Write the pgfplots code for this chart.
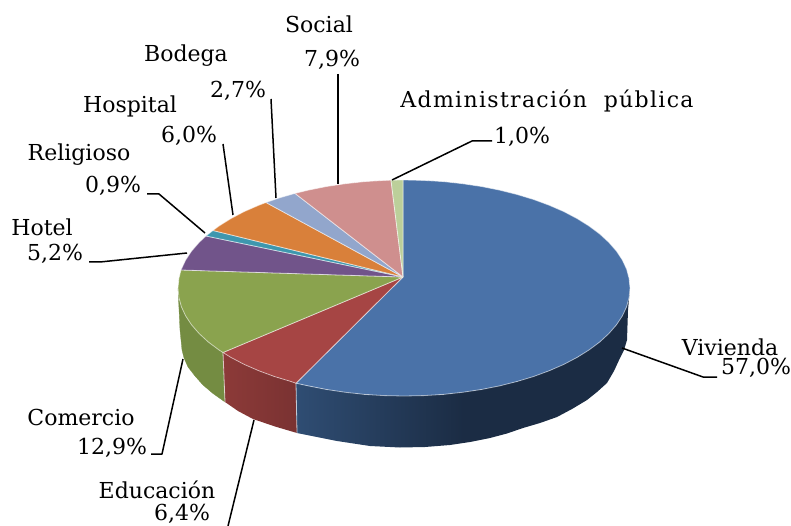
\documentclass[border=0pt]{standalone}
\usepackage{fontspec}
\setmainfont{DejaVu Serif}
\usepackage{pgfplots}
\pgfplotsset{compat=1.18}
\definecolor{viva}{HTML}{2F4D73}
\definecolor{vivb}{HTML}{1B2C44}
\definecolor{vivc}{HTML}{1B2C44}
\pgfdeclarehorizontalshading{vivside}{100bp}{color(0bp)=(viva); color(25bp)=(viva); color(50bp)=(vivb); color(75bp)=(vivc); color(100bp)=(vivc)}
\definecolor{cViv}{HTML}{4A72A8}
\definecolor{cEdu}{HTML}{A64544}
\definecolor{cCom}{HTML}{8AA34E}
\definecolor{cHot}{HTML}{71548A}
\definecolor{cRel}{HTML}{3E97AE}
\definecolor{cHos}{HTML}{D9803A}
\definecolor{cBod}{HTML}{92A6CC}
\definecolor{cSoc}{HTML}{CF8F8E}
\definecolor{cAdm}{HTML}{BCCF9A}
\definecolor{sCom}{HTML}{748C42}
\definecolor{sEduA}{HTML}{8C3A38}
\definecolor{sEduB}{HTML}{7A3232}
\tikzset{
  wedge/.style={draw=white,draw opacity=0.55,line width=0.8pt},
  leader/.style={black,line width=1.5pt,line join=round},
  lab/.style={font=\fontsize{22}{24}\selectfont,inner sep=0pt,anchor=center}}
\begin{document}
\begin{tikzpicture}
\path[use as bounding box] (0,0) rectangle (791pt,526pt);
\begin{axis}[at={(0,0)},anchor=south west,scale only axis,width=791pt,height=526pt,
  xmin=0,xmax=791,ymin=0,ymax=526,y dir=reverse,hide axis,clip=false,
  every axis plot/.append style={no markers}]
% side faces
\addplot[sCom,fill=sCom,line width=0.3pt] coordinates {(178,288)(178.9,297.4)(181.4,306.8)(185.7,316)(191.6,324.9)(199.2,333.6)(208.3,342)(218.9,349.9)(223,352.5)(225,402)(213,393.5)(203,385)(195,376)(188,367)(184,358)(182,350)(180,330)(178,288)};
\addplot[left color=sEduA,right color=sEduB,draw=none] coordinates {(223,352.5)(230.9,357.4)(244.2,364.4)(258.7,370.7)(274.4,376.5)(291,381.5)(296,383.2)(297,433)(275,426.5)(253,419)(238,411)(225,402)(223,352.5)};
\addplot[shading=vivside,draw=none] coordinates {(296,383.2)(308.5,385.9)(326.7,389.5)(364.7,394.4)(404,396)(443.3,394.4)(481.3,389.5)(517,381.5)(549.3,370.7)(577.1,357.4)(599.7,342)(616.4,324.9)(626.6,306.8)(630,288)(628,310)(627,340)(624,350)(620,358)(614,371)(607,383)(597,392)(587,400)(572,409)(557,417)(540,423)(523,428)(507,433.5)(490,438)(470,442)(450,445)(425,447)(400,447.5)(370,446)(337,441)(297,433)(296,383.2)};
\addplot[white,opacity=0.7,line width=0.8pt] coordinates {(223,352.5)(225,402)};
\addplot[white,opacity=0.7,line width=0.8pt] coordinates {(296,383.2)(297,433)};
% top faces
\addplot[wedge,fill=cViv] coordinates {(403,277)(403,180)(423.7,180.4)(443.3,181.6)(462.5,183.7)(481.3,186.5)(499.5,190.1)(517,194.5)(533.6,199.5)(549.3,205.3)(563.8,211.6)(577.1,218.6)(589.1,226.1)(599.7,234)(608.8,242.4)(616.4,251.1)(622.3,260)(626.6,269.2)(629.1,278.6)(630,288)(629.1,297.4)(626.6,306.8)(622.3,316)(616.4,324.9)(608.8,333.6)(599.7,342)(589.1,349.9)(577.1,357.4)(563.8,364.4)(549.3,370.7)(533.6,376.5)(517,381.5)(499.5,385.9)(481.3,389.5)(462.5,392.3)(443.3,394.4)(423.7,395.6)(404,396)(384.3,395.6)(364.7,394.4)(345.5,392.3)(326.7,389.5)(308.5,385.9)(296,383.2)(403,277)};
\addplot[wedge,fill=cEdu] coordinates {(403,277)(296,383.2)(291,381.5)(274.4,376.5)(258.7,370.7)(244.2,364.4)(230.9,357.4)(223,352.5)(403,277)};
\addplot[wedge,fill=cCom] coordinates {(403,277)(223,352.5)(218.9,349.9)(208.3,342)(199.2,333.6)(191.6,324.9)(185.7,316)(181.4,306.8)(178.9,297.4)(178,288)(178.9,278.6)(181,270)(403,277)};
\addplot[wedge,fill=cHot] coordinates {(403,277)(181,270)(185.7,260)(191.6,251.1)(199.2,242.4)(206,236)(403,277)};
\addplot[wedge,fill=cRel] coordinates {(403,277)(206,236)(213,230.5)(403,277)};
\addplot[wedge,fill=cHos] coordinates {(403,277)(213,230.5)(218.9,226.1)(230.9,218.6)(244.2,211.6)(258.7,205.3)(266,202.5)(403,277)};
\addplot[wedge,fill=cBod] coordinates {(403,277)(266,202.5)(280,197.7)(295,193.4)(403,277)};
\addplot[wedge,fill=cSoc] coordinates {(403,277)(295,193.4)(308.5,190.1)(326.7,186.5)(345.5,183.7)(364.7,181.6)(384.3,180.4)(391,180.2)(403,277)};
\addplot[wedge,fill=cAdm] coordinates {(403,277)(391,180.2)(403,180)(403,277)};
% leader lines
\addplot[leader] coordinates {(338,74)(338,184)};
\addplot[leader] coordinates {(271,99)(276,198)};
\addplot[leader] coordinates {(223,144)(233,215)};
\addplot[leader] coordinates {(147,194)(159,194)(205,233)};
\addplot[leader] coordinates {(89,262)(100,262)(187,253)};
\addplot[leader] coordinates {(392,180)(472,141)(492,141)};
\addplot[leader] coordinates {(622,348)(703,377)(717,377)};
\addplot[leader] coordinates {(183,359)(162,454)(151,454)};
\addplot[leader] coordinates {(254,420)(228,526)};
% labels
\node[lab] at (axis cs:319,24) {Social};
\node[lab] at (axis cs:332,60) {7,9\%};
\node[lab] at (axis cs:186,56) {Bodega};
\node[lab] at (axis cs:238,91) {2,7\%};
\node[lab] at (axis cs:130,106) {Hospital};
\node[lab] at (axis cs:189,136) {6,0\%};
\node[lab] at (axis cs:79,155) {Religioso};
\node[lab] at (axis cs:113,186) {0,9\%};
\node[lab] at (axis cs:42,227) {Hotel};
\node[lab] at (axis cs:55,254) {5,2\%};
\node[lab] at (axis cs:547,101) {\addfontfeatures{LetterSpace=6}Administración\ \ pública};
\node[lab] at (axis cs:522,137) {1,0\%};
\node[lab] at (axis cs:730,347) {Vivienda};
\node[lab] at (axis cs:756,368) {57,0\%};
\node[lab] at (axis cs:81,417) {Comercio};
\node[lab] at (axis cs:112,448) {12,9\%};
\node[lab] at (axis cs:157,490) {Educación};
\node[lab] at (axis cs:182,514) {6,4\%};
\end{axis}
\end{tikzpicture}
\end{document}
